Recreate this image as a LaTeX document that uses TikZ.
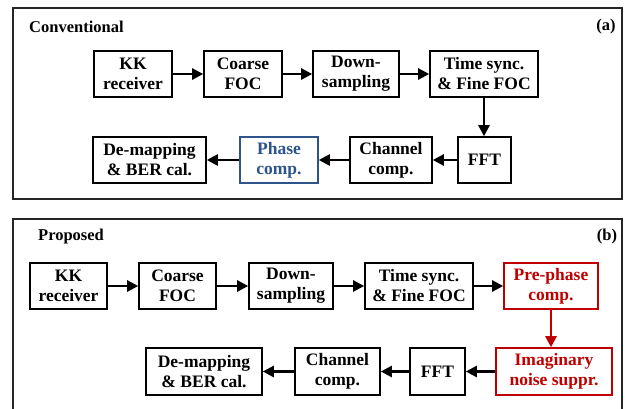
\documentclass[tikz,border=0pt]{standalone}
\usepackage{fontspec}
\setmainfont{Liberation Serif}
\usetikzlibrary{arrows.meta}
\definecolor{pblue}{RGB}{46,84,140}
\definecolor{pred}{RGB}{192,0,0}
\begin{document}
\begin{tikzpicture}[x=1pt,y=-1pt,
  blk/.style={draw=black,line width=1.6pt,align=center,inner sep=0pt,minimum height=46pt,
    font=\fontsize{17.5}{20}\selectfont\bfseries},
  arr/.style={line width=2.4pt,-{Triangle[length=11pt,width=11pt]}},
  frame/.style={line width=1.3pt,draw=black!85},
  lbl/.style={font=\fontsize{16.5}{19}\selectfont\bfseries,inner sep=0pt}]
\useasboundingbox (0,0) rectangle (625,408);
\clip (0,0) rectangle (625,408);
\fill[white] (0,0) rectangle (625,408);
% panel (a)
\draw[frame] (13,8) rectangle (622,199);
\node[lbl,anchor=west] (la) at (29,27) {Conventional};
\node[lbl] (a) at (606,27) {(a)};
\node[blk,minimum width=78pt] (kka) at (133,74) {KK\\receiver};
\node[blk,minimum width=78pt] (coa) at (243,74) {Coarse\\FOC};
\node[blk,minimum width=86pt] (doa) at (356,74) {Down-\\sampling};
\node[blk,minimum width=108pt] (tia) at (484,74) {Time sync.\\\& Fine FOC};
\node[blk,minimum width=53pt] (ffa) at (484.5,160) {FFT};
\node[blk,minimum width=82pt] (cha) at (391,160) {Channel\\comp.};
\node[blk,minimum width=78pt,draw=pblue,text=pblue] (pha) at (279,160) {Phase\\comp.};
\node[blk,minimum width=113pt] (dea) at (149.5,160) {De-mapping\\\& BER cal.};
\draw[arr] (kka) -- (coa);
\draw[arr] (coa) -- (doa);
\draw[arr] (doa) -- (tia);
\draw[arr] (tia.south) -- (tia.south |- ffa.north);
\draw[arr] (ffa) -- (cha);
\draw[arr] (cha) -- (pha);
\draw[arr] (pha) -- (dea);
% panel (b)
\draw[frame] (13,219) rectangle (622,430);
\node[lbl,anchor=west] (lb) at (38,237) {Proposed};
\node[lbl] (b) at (607,237) {(b)};
\node[blk,minimum width=77pt] (kkb) at (68.5,286) {KK\\receiver};
\node[blk,minimum width=77pt] (cob) at (177.5,286) {Coarse\\FOC};
\node[blk,minimum width=84pt] (dob) at (291,286) {Down-\\sampling};
\node[blk,minimum width=108pt] (tib) at (419,286) {Time sync.\\\& Fine FOC};
\node[blk,minimum width=94pt,draw=pred,text=pred] (prb) at (551,286) {Pre-phase\\comp.};
\node[blk,minimum width=116pt,minimum height=47pt,draw=pred,text=pred] (imb) at (554,371.5) {Imaginary\\noise suppr.};
\node[blk,minimum width=55pt,minimum height=47pt] (ffb) at (437.5,371.5) {FFT};
\node[blk,minimum width=85pt,minimum height=47pt] (chb) at (337.5,371.5) {Channel\\comp.};
\node[blk,minimum width=116pt,minimum height=47pt] (deb) at (204,371.5) {De-mapping\\\& BER cal.};
\draw[arr] (kkb) -- (cob);
\draw[arr] (cob) -- (dob);
\draw[arr] (dob) -- (tib);
\draw[arr] (tib) -- (prb);
\draw[arr,draw=pred,fill=pred] (prb.south) -- (prb.south |- imb.north);
\draw[arr] (imb) -- (ffb);
\draw[arr] (ffb) -- (chb);
\draw[arr] (chb) -- (deb);
\end{tikzpicture}
\end{document}
